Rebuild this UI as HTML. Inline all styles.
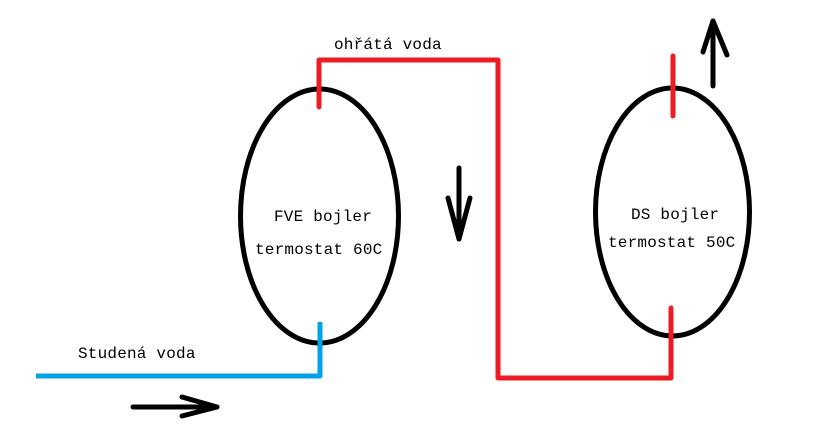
<!DOCTYPE html>
<html><head><meta charset="utf-8"><style>
html,body{margin:0;padding:0;background:#fff;}
svg{display:block}
text{font-family:"Liberation Mono",monospace;font-size:16px;fill:#000;letter-spacing:0.2px}
</style></head><body>
<svg width="832" height="439" viewBox="0 0 832 439" xmlns="http://www.w3.org/2000/svg">
<ellipse cx="319.5" cy="216" rx="79" ry="127" fill="none" stroke="#000" stroke-width="5"/>
<ellipse cx="672.5" cy="212" rx="77" ry="124" fill="none" stroke="#000" stroke-width="5"/>
<g stroke="#ed1c24" stroke-width="5" fill="none" stroke-linecap="round" stroke-linejoin="round">
<polyline points="319,107 319,60 498,60 498,378 671,378 671,308"/>
<line x1="673" y1="56" x2="673" y2="116"/>
</g>
<polyline points="36,376 320,376 320,322" fill="none" stroke="#00a2e8" stroke-width="5" stroke-linejoin="round"/>
<g stroke="#000" stroke-width="5" fill="none" stroke-linecap="round" stroke-linejoin="round">
<line x1="133" y1="407" x2="217" y2="407"/><polyline points="182,397 217,407 182,416"/>
<line x1="459" y1="168" x2="459" y2="239"/><polyline points="448,198 459,239 470,198"/>
<line x1="713" y1="86" x2="713" y2="21"/><polyline points="703,52 713,21 727,55"/>
</g>
<text x="334" y="49">ohřátá voda</text>
<text x="78" y="358">Studená voda</text>
<text x="274" y="221">FVE bojler</text>
<text x="255" y="254">termostat 60C</text>
<text x="631" y="219">DS bojler</text>
<text x="608" y="247">termostat 50C</text>
</svg>
</body></html>
